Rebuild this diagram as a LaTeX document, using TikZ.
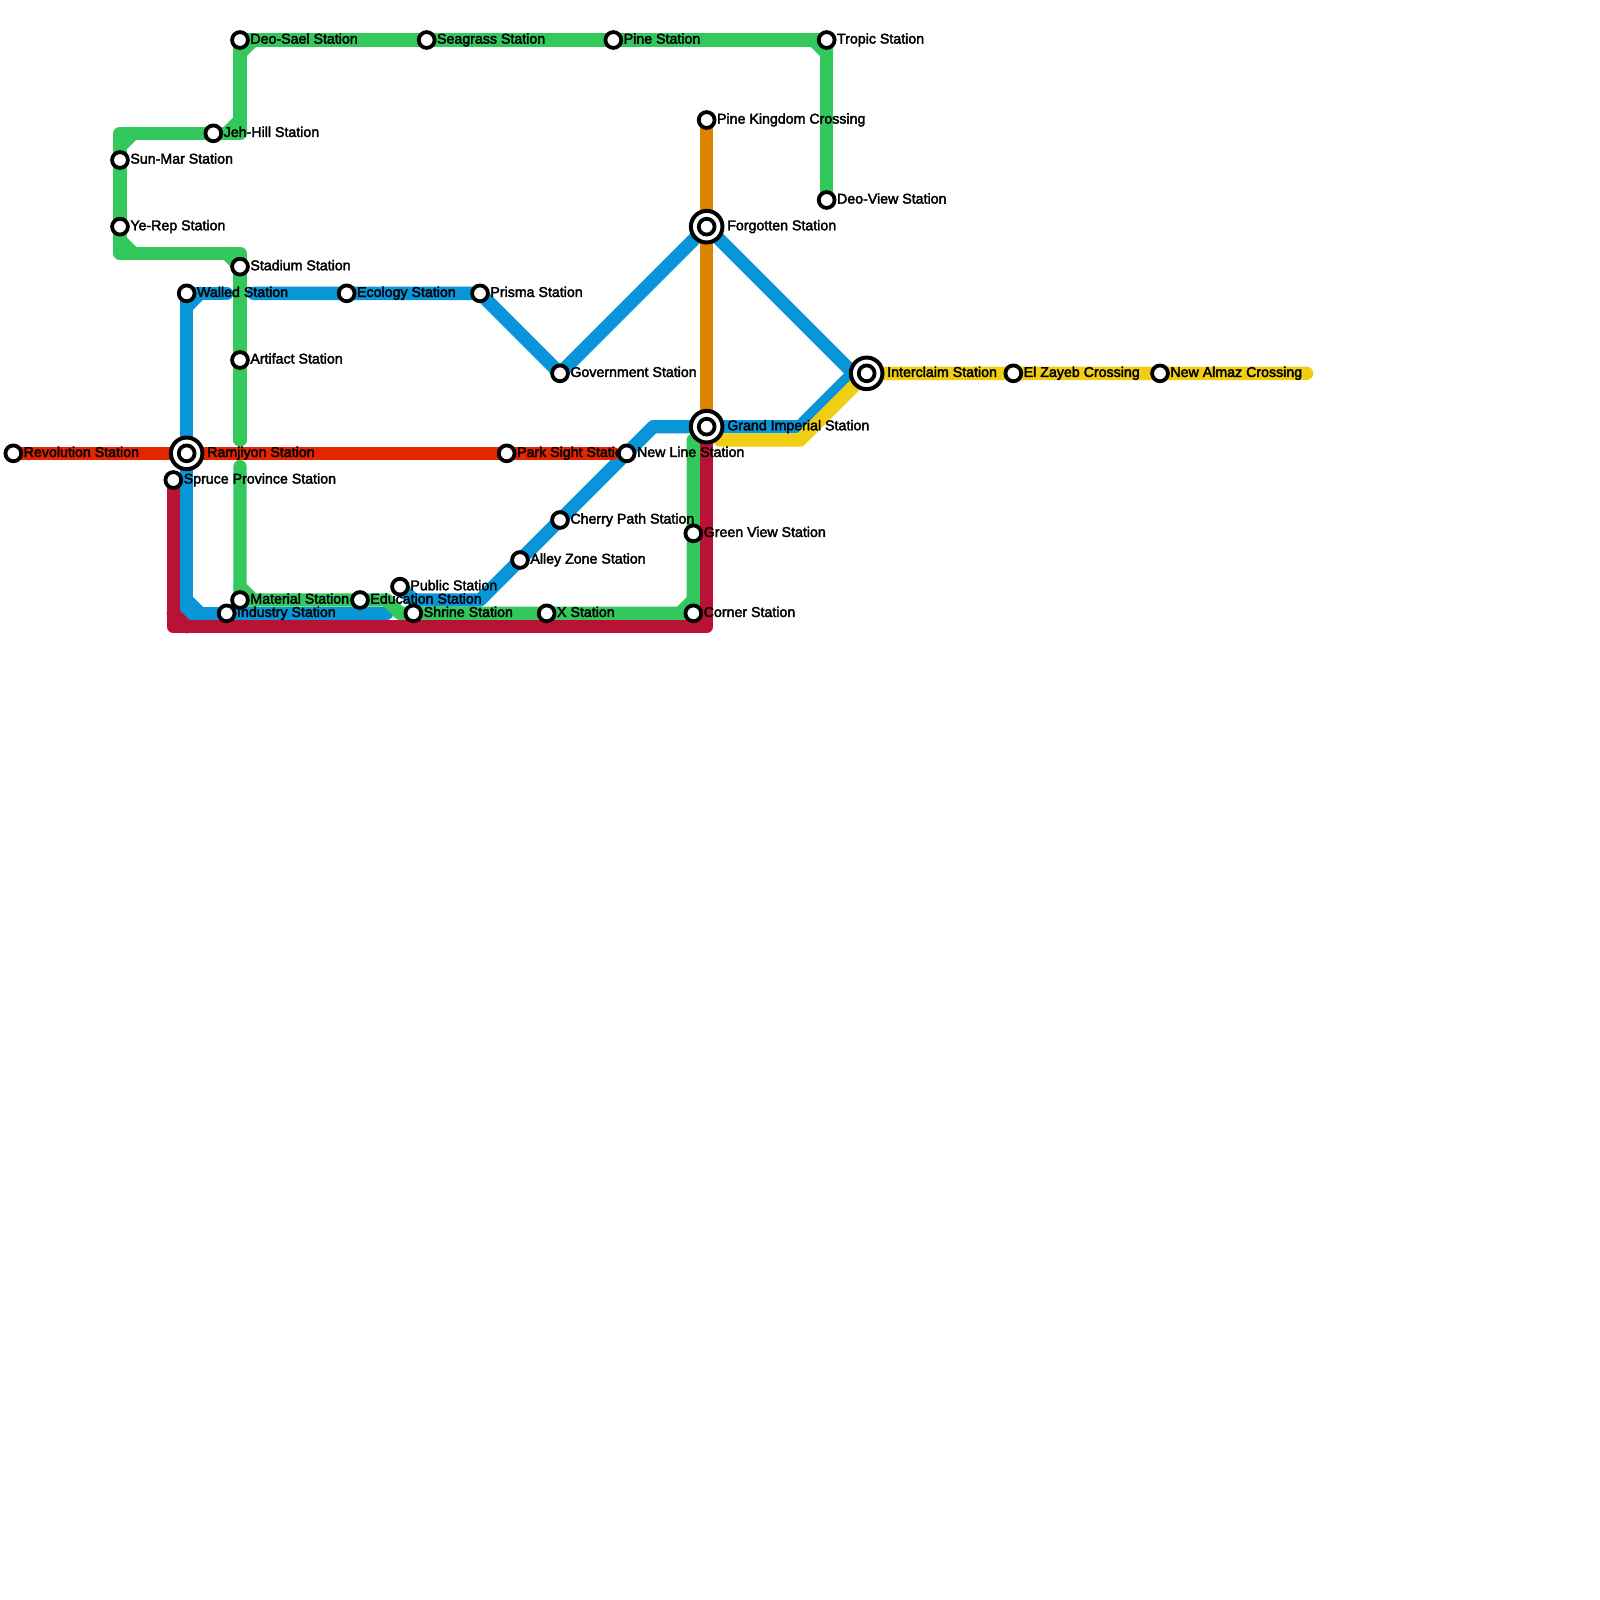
\documentclass[tikz,border=0pt]{standalone}
\usepackage{fontspec}
\usepackage{xcolor}
\usepackage{tikz}
\usetikzlibrary{positioning}
\newfontfamily\mapfont{Liberation Sans}
\definecolor{mapgreen}{HTML}{33C85C}
\definecolor{mapblue}{HTML}{0996D8}
\definecolor{mapred}{HTML}{E42500}
\definecolor{mapcrimson}{HTML}{BA1237}
\definecolor{maporange}{HTML}{DD8500}
\definecolor{mapyellow}{HTML}{F1CE14}
\pgfdeclarelayer{under}
\pgfdeclarelayer{front}
\pgfsetlayers{under,main,front}

\begin{document}
\begin{tikzpicture}[x=6.6667pt, y=-6.6667pt,
  route/.style={line width=6.6667pt, line cap=round, line join=round},
  stn/.style={draw=black, fill=white, circle, line width=1.9pt, inner sep=0pt,
              minimum size=7.9pt},
  hub/.style={draw=black, fill=white, circle, line width=2pt, inner sep=0pt,
              minimum size=15.8pt},
  lbl/.style={font=\mapfont\fontsize{7.1}{8}\selectfont, inner sep=0pt, text height=5pt,
              text depth=0pt, yshift=.7pt, node distance=.1pt,
              execute at begin node={\special{pdf:code 2 Tr 0.18 w}},
              execute at end node={\special{pdf:code 0 Tr}}},
  hublbl/.style={lbl, node distance=1.2pt}]
  \useasboundingbox (0,0) rectangle (120,120);

  \begin{pgfonlayer}{front}
    \node[stn] (revolution) at (1,34) {};
    \node[hub] (ramjiyon) at (14,34) {};
    \node[stn] (ramjiyonin) at (14,34) {};
    \node[stn] (parksight) at (38,34) {};
    \node[stn] (newline) at (47,34) {};
    \node[stn] (spruce) at (13,36) {};
    \node[stn] (walled) at (14,22) {};
    \node[stn] (ecology) at (26,22) {};
    \node[stn] (prisma) at (36,22) {};
    \node[stn] (stadium) at (18,20) {};
    \node[stn] (artifact) at (18,27) {};
    \node[stn] (sunmar) at (9,12) {};
    \node[stn] (yerep) at (9,17) {};
    \node[stn] (jehhill) at (16,10) {};
    \node[stn] (deosael) at (18,3) {};
    \node[stn] (seagrass) at (32,3) {};
    \node[stn] (pine) at (46,3) {};
    \node[stn] (tropic) at (62,3) {};
    \node[stn] (deoview) at (62,15) {};
    \node[stn] (pinekingdom) at (53,9) {};
    \node[hub] (forgotten) at (53,17) {};
    \node[stn] (forgottenin) at (53,17) {};
    \node[hub] (interclaim) at (65,28) {};
    \node[stn] (interclaimin) at (65,28) {};
    \node[stn] (elzayeb) at (76,28) {};
    \node[stn] (newalmaz) at (87,28) {};
    \node[hub] (grand) at (53,32) {};
    \node[stn] (grandin) at (53,32) {};
    \node[stn] (government) at (42,28) {};
    \node[stn] (cherry) at (42,39) {};
    \node[stn] (alley) at (39,42) {};
    \node[stn] (greenview) at (52,40) {};
    \node[stn] (corner) at (52,46) {};
    \node[stn] (xstn) at (41,46) {};
    \node[stn] (shrine) at (31,46) {};
    \node[stn] (public) at (30,44) {};
    \node[stn] (education) at (27,45) {};
    \node[stn] (material) at (18,45) {};
    \node[stn] (industry) at (17,46) {};
  \end{pgfonlayer}

  \node[lbl, right=of revolution] (revolutionlbl) {Revolution Station};
  \node[hublbl, right=of ramjiyon] (ramjiyonlbl) {Ramjiyon Station};
  \node[lbl, right=of parksight] (parksightlbl) {Park Sight Station};
  \node[lbl, right=of newline] (newlinelbl) {New Line Station};
  \node[lbl, right=of spruce] (sprucelbl) {Spruce Province Station};
  \node[lbl, right=of walled] (walledlbl) {Walled Station};
  \node[lbl, right=of ecology] (ecologylbl) {Ecology Station};
  \node[lbl, right=of prisma] (prismalbl) {Prisma Station};
  \node[lbl, right=of stadium] (stadiumlbl) {Stadium Station};
  \node[lbl, right=of artifact] (artifactlbl) {Artifact Station};
  \node[lbl, right=of sunmar] (sunmarlbl) {Sun-Mar Station};
  \node[lbl, right=of yerep] (yereplbl) {Ye-Rep Station};
  \node[lbl, right=of jehhill] (jehhilllbl) {Jeh-Hill Station};
  \node[lbl, right=of deosael] (deosaellbl) {Deo-Sael Station};
  \node[lbl, right=of seagrass] (seagrasslbl) {Seagrass Station};
  \node[lbl, right=of pine] (pinelbl) {Pine Station};
  \node[lbl, right=of tropic] (tropiclbl) {Tropic Station};
  \node[lbl, right=of deoview] (deoviewlbl) {Deo-View Station};
  \node[lbl, right=of pinekingdom] (pinekingdomlbl) {Pine Kingdom Crossing};
  \node[hublbl, right=of forgotten] (forgottenlbl) {Forgotten Station};
  \node[hublbl, right=of interclaim] (interclaimlbl) {Interclaim Station};
  \node[lbl, right=of elzayeb] (elzayeblbl) {El Zayeb Crossing};
  \node[lbl, right=of newalmaz] (newalmazlbl) {New Almaz Crossing};
  \node[hublbl, right=of grand] (grandlbl) {Grand Imperial Station};
  \node[lbl, right=of government] (governmentlbl) {Government Station};
  \node[lbl, right=of cherry] (cherrylbl) {Cherry Path Station};
  \node[lbl, right=of alley] (alleylbl) {Alley Zone Station};
  \node[lbl, right=of greenview] (greenviewlbl) {Green View Station};
  \node[lbl, right=of corner] (cornerlbl) {Corner Station};
  \node[lbl, right=of xstn] (xstnlbl) {X Station};
  \node[lbl, right=of shrine] (shrinelbl) {Shrine Station};
  \node[lbl, right=of public] (publiclbl) {Public Station};
  \node[lbl, right=of education] (educationlbl) {Education Station};
  \node[lbl, right=of material] (materiallbl) {Material Station};
  \node[lbl, right=of industry] (industrylbl) {Industry Station};

  % bends and free ends
  \coordinate (g1) at (18,10);
  \coordinate (g2) at (9,10);
  \coordinate (g3) at (9,19);
  \coordinate (g4) at (18,19);
  \coordinate (g5) at (18,33);
  \coordinate (g6) at (18,35);
  \coordinate (g7) at (29,45);
  \coordinate (g8) at (30,46);
  \coordinate (g9) at (52,33);
  \coordinate (b1) at (17,22);
  \coordinate (b2) at (19,22);
  \coordinate (b3) at (64,28);
  \coordinate (b4) at (60,32);
  \coordinate (b5) at (49,32);
  \coordinate (b6) at (36,45);
  \coordinate (b7) at (31,45);
  \coordinate (b8) at (14,46);
  \coordinate (b9) at (29,46);
  \coordinate (r1) at (46,34);
  \coordinate (c1) at (13,47);
  \coordinate (c2) at (53,47);
  \coordinate (y1) at (54,33);
  \coordinate (y2) at (60,33);
  \coordinate (y3) at (98,28);

  \begin{pgfonlayer}{under}
    \draw[route, mapblue] (walled.center) -- (b1);
    \draw[route, mapblue] (b2) -- (prisma.center) -- (government.center)
      -- (forgotten.center) -- (b3) -- (interclaim.center);
    \draw[route, mapblue] (b3) -- (b4) -- (grand.center) -- (b5) -- (b6) -- (b7)
      -- (public.center);
    \draw[route, mapblue] (walled.center) -- (b8) -- (b9);
    \draw[route, mapblue] (walled.center) ++(0,1) -- ++(1,-1);
    \draw[route, mapblue] (b8) ++(0,-1) -- ++(1,1);
    \draw[route, mapred] (revolution.center) -- (r1);
    \draw[route, mapyellow] (y1) -- (y2) -- (interclaim.center) -- (y3);
    \draw[route, maporange] (pinekingdom.center) -- (grand.center);
    % green, upper part
    \draw[route, mapgreen] (deoview.center) -- (tropic.center) -- (deosael.center)
      -- (g1) -- (g2) -- (g3) -- (g4) -- (g5);
    \draw[route, mapgreen] (tropic.center) ++(-1,0) -- ++(1,1);
    \draw[route, mapgreen] (deosael.center) ++(0,1) -- ++(1,-1);
    \draw[route, mapgreen] (g1) ++(-1,0) -- ++(1,-1);
    \draw[route, mapgreen] (g2) ++(0,1) -- ++(1,-1);
    \draw[route, mapgreen] (g3) ++(0,-1) -- ++(1,1);
    \draw[route, mapgreen] (g4) ++(-1,0) -- ++(1,1);
    % green, lower part
    \draw[route, mapgreen] (g6) -- (material.center) -- (g7) -- (g8)
      -- (corner.center) -- (g9);
    \draw[route, mapgreen] (material.center) ++(0,-1) -- ++(1,1);
    \draw[route, mapgreen] (corner.center) ++(-1,0) -- ++(1,-1);
    \draw[route, mapcrimson] (spruce.center) -- (c1) -- (c2) -- (grand.center);
    \draw[route, mapcrimson] (c1) ++(0,-1) -- ++(1,1);
  \end{pgfonlayer}
\end{tikzpicture}
\end{document}
